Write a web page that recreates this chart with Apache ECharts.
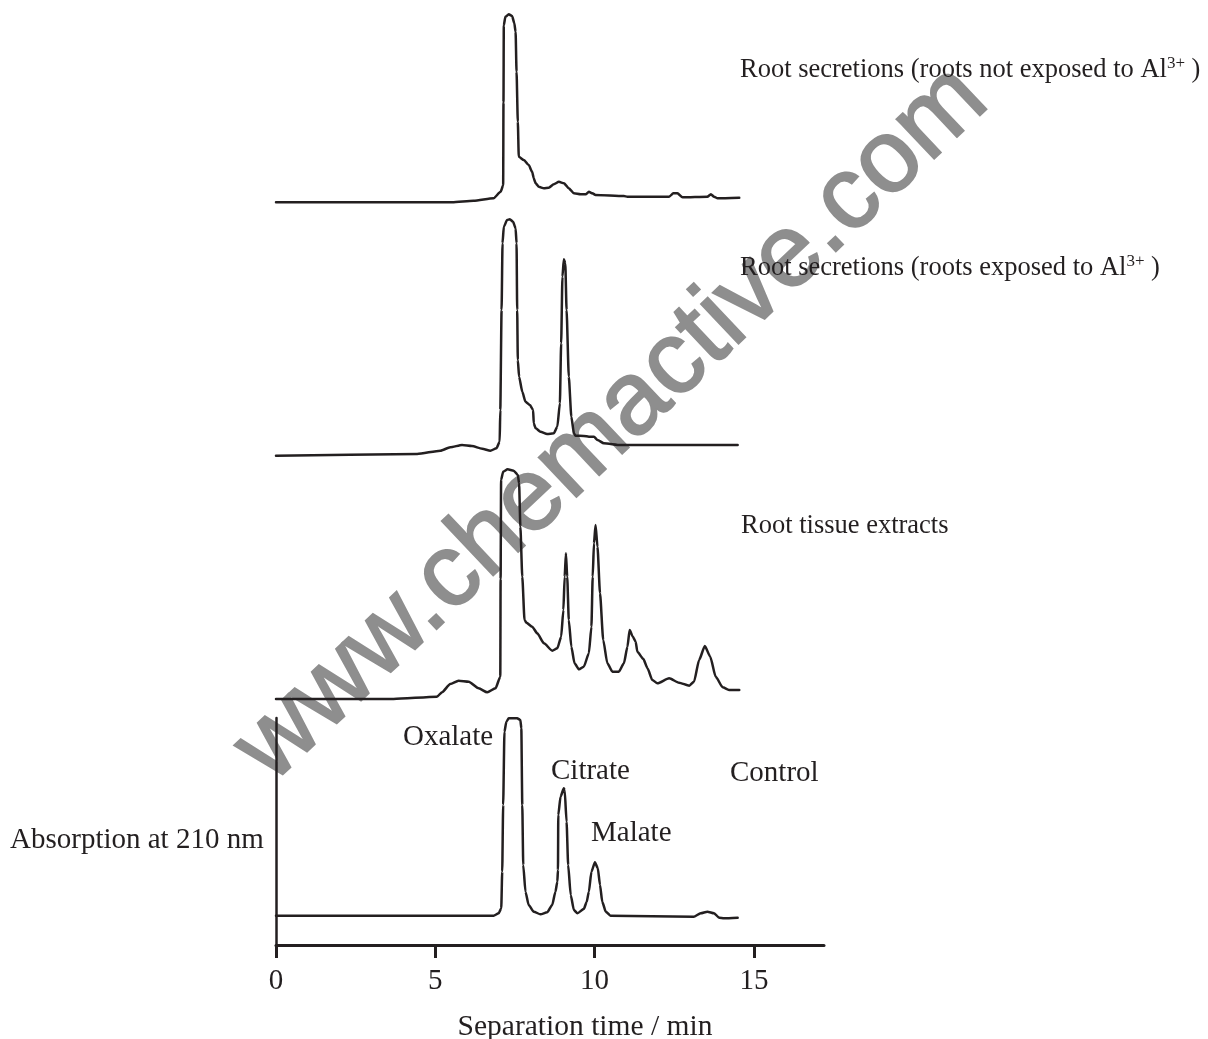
<!DOCTYPE html>
<html>
<head>
<meta charset="utf-8">
<title>Organic acids in root secretions</title>
<script src="https://cdn.jsdelivr.net/npm/echarts@6/dist/echarts.min.js"></script>
<style>
  html, body { margin: 0; padding: 0; background: #ffffff; }
  #chart { width: 1208px; height: 1039px; }
</style>
</head>
<body>
<div id="chart"></div>
<script>
// Chromatograms: [separation time (min), absorption at 210 nm (arbitrary units)]
const notExposed = [
  [0, 0], [5.53, 0], [6.2, 1.5], [6.83, 4], [7.05, 10.5], [7.13, 17], [7.14, 100],
  [7.15, 177], [7.2, 185.5], [7.305, 188], [7.41, 186.3], [7.48, 179], [7.52, 170.5],
  [7.55, 130.5], [7.59, 80.5], [7.62, 45.5], [7.78, 42.3], [7.93, 37.3], [8.04, 30.5],
  [8.09, 24], [8.15, 19], [8.25, 15.5], [8.41, 14], [8.56, 14.5], [8.72, 18], [8.88, 20.5],
  [9.04, 19], [9.19, 14], [9.35, 9], [9.56, 8], [9.72, 8], [9.82, 10.5], [9.93, 9],
  [10.03, 7.3], [10.92, 6.3], [11.03, 5.6], [12.34, 5.6], [12.47, 9], [12.6, 9], [12.76, 5],
  [13.54, 5.6], [13.65, 8], [13.75, 5.6], [13.86, 4], [14.54, 4.6]
];

const exposed = [
  [0, 0], [4.43, 1.7], [5.16, 5], [5.47, 8.4], [5.84, 10.7], [6.15, 9.7], [6.47, 7],
  [6.73, 5], [6.92, 7.4], [7.02, 14], [7.04, 45.7], [7.08, 145.7], [7.11, 212.4],
  [7.15, 229], [7.255, 235.7], [7.34, 236.4], [7.44, 234], [7.52, 227.4], [7.55, 212.4],
  [7.57, 145.7], [7.59, 95.7], [7.63, 79], [7.73, 64], [7.83, 54], [7.97, 50.7],
  [8.07, 45.7], [8.09, 32.4], [8.15, 27.4], [8.3, 24], [8.51, 21.7], [8.72, 22.4],
  [8.83, 29], [8.91, 52.4], [8.95, 112.4], [8.99, 179], [9.035, 196.4], [9.08, 192.4],
  [9.12, 145.7], [9.19, 79], [9.27, 39], [9.35, 22.4], [9.4, 20], [9.66, 19.7],
  [9.82, 19], [9.98, 19], [10.09, 15.7], [10.29, 12.4], [10.82, 10.7], [14.49, 10.7]
];

const tissue = [
  [0, 0], [3.69, 0], [5.05, 2.3], [5.21, 6.7], [5.47, 15], [5.73, 18.3], [6.05, 17.3],
  [6.36, 10.7], [6.63, 6.7], [6.89, 10.7], [7.04, 22.3], [7.05, 120], [7.065, 219],
  [7.13, 227.3], [7.27, 229.7], [7.46, 228.3], [7.59, 224], [7.63, 215.7], [7.67, 172.3],
  [7.73, 122.3], [7.8, 79], [7.86, 76.3], [8.04, 72.3], [8.2, 65.7], [8.41, 55.7],
  [8.67, 48.3], [8.83, 50.7], [8.95, 62.3], [9.02, 89], [9.06, 122.3], [9.1, 145.7],
  [9.14, 122.3], [9.19, 79], [9.27, 52.3], [9.37, 35.7], [9.51, 29.7], [9.66, 32.3],
  [9.82, 45.7], [9.9, 72.3], [9.94, 122.3], [9.98, 155.7], [10.03, 174], [10.09, 152.3],
  [10.17, 105.7], [10.27, 59], [10.4, 35.7], [10.56, 27.3], [10.76, 27.3], [10.92, 35.7],
  [11.03, 52.3], [11.1, 69], [11.2, 62.3], [11.29, 57.3], [11.34, 47.3], [11.53, 40],
  [11.66, 30.7], [11.81, 19], [11.97, 15.7], [12.34, 20.7], [12.65, 16.3], [12.97, 13.3],
  [13.12, 17.3], [13.28, 39], [13.46, 53], [13.63, 42.3], [13.8, 22.3], [14.02, 11.7],
  [14.22, 9], [14.54, 9]
];

const control = [
  [0, 29.3], [6.83, 29.3], [6.99, 31.7], [7.07, 36.7], [7.1, 73.3], [7.13, 140],
  [7.17, 213.3], [7.23, 223.3], [7.305, 226.7], [7.57, 226.7], [7.67, 225], [7.7, 216.7],
  [7.73, 140], [7.76, 80], [7.83, 53.3], [7.93, 40], [8.09, 33.3], [8.3, 30.7],
  [8.51, 32.7], [8.67, 40], [8.77, 53.3], [8.83, 63.3], [8.85, 75], [8.86, 130],
  [8.93, 148.3], [9.035, 156.7], [9.06, 155], [9.12, 123.3], [9.17, 80], [9.25, 50],
  [9.35, 35], [9.46, 31.7], [9.66, 36], [9.75, 43], [9.82, 53.3], [9.9, 73.3],
  [10.01, 82.7], [10.1, 76.7], [10.17, 60], [10.24, 43.3], [10.35, 33.3], [10.5, 29.3],
  [13.11, 28.3], [13.33, 31.7], [13.54, 33.3], [13.75, 31.7], [13.91, 27.3],
  [14.06, 26.7], [14.49, 27.3]
];

const timeTicks = [0, 5, 10, 15];
const timeMax = 17.2;

const traceLabels = [
  'Root secretions (roots not exposed to Al{sup|3+} )',
  'Root secretions (roots exposed to Al{sup|3+} )',
  'Root tissue extracts',
  'Control'
];
const peakLabels = ['Oxalate', 'Citrate', 'Malate'];

const ink = '#231f20';
const serif = '"Liberation Serif", "Times New Roman", serif';

// one grid per chromatogram, stacked; all share the same time scale
const grids = [
  { left: 276, right: 384, top: 718, height: 227 },       // control (with axes)
  { left: 276, right: 384, bottom: 340, height: 240 },    // root tissue extracts
  { left: 276, right: 384, bottom: 583.3, height: 240 },  // exposed to Al3+
  { left: 276, right: 384, bottom: 836.7, height: 195 }   // not exposed
];
const yMax = [227, 240, 240, 195];
const traceData = [control, tissue, exposed, notExposed];

const xAxes = grids.map((g, i) => ({
  type: 'value', gridIndex: i, min: 0, max: timeMax, interval: 5,
  show: i === 0,
  axisLine: { show: true, onZero: false, lineStyle: { color: ink, width: 3 } },
  axisTick: { show: true, length: 13, inside: false, customValues: timeTicks,
              lineStyle: { color: ink, width: 3 } },
  axisLabel: { show: true, customValues: timeTicks,
               fontSize: 29, fontFamily: serif, color: ink, margin: 22 },
  splitLine: { show: false }
}));

const yAxes = grids.map((g, i) => ({
  type: 'value', gridIndex: i, min: 0, max: yMax[i],
  show: i === 0,
  axisLine: { show: true, onZero: false, lineStyle: { color: ink, width: 2.5 } },
  axisTick: { show: false },
  axisLabel: { show: false },
  splitLine: { show: false }
}));

const series = traceData.map((d, i) => ({
  type: 'line', xAxisIndex: i, yAxisIndex: i, data: d,
  showSymbol: false, symbol: 'none', clip: false, silent: true,
  smooth: 0.2, smoothMonotone: 'x',
  lineStyle: { color: ink, width: 2.5, join: 'round', cap: 'round' },
  z: 3
}));

const supRich = {
  sup: { fontSize: 17, fontFamily: serif, fill: ink, verticalAlign: 'top', lineHeight: 17 }
};

function label(text, x, y, size, align) {
  return {
    type: 'text', x: x, y: y, z: 5,
    style: {
      text: text, fill: ink, fontSize: size, fontFamily: serif,
      align: align || 'left', verticalAlign: 'middle', lineHeight: size + 4, rich: supRich
    }
  };
}

const graphics = [
  {
    type: 'text', x: 612, y: 424, rotation: 43.4 * Math.PI / 180, z: 0,
    style: {
      text: 'www.chemactive.com', fill: '#8e8e8e',
      stroke: '#8e8e8e', lineWidth: 2,
      fontSize: 103, fontFamily: '"Liberation Sans", Arial, sans-serif',
      align: 'center', verticalAlign: 'middle'
    }
  },
  label(traceLabels[0], 740, 70, 26.5),
  label(traceLabels[1], 740, 268, 26.5),
  label(traceLabels[2], 741, 526, 26.5),
  label(traceLabels[3], 730, 773, 29),
  label(peakLabels[0], 403, 737, 29),
  label(peakLabels[1], 551, 771, 29),
  label(peakLabels[2], 591, 833, 29),
  label('Absorption at 210 nm', 10, 840, 29),
  label('Separation time / min', 585, 1027, 29.5, 'center')
];

const chart = echarts.init(document.getElementById('chart'), null, { renderer: 'canvas' });
chart.setOption({
  animation: false,
  backgroundColor: '#ffffff',
  grid: grids,
  xAxis: xAxes,
  yAxis: yAxes,
  series: series,
  graphic: { elements: graphics }
});
</script>
</body>
</html>
